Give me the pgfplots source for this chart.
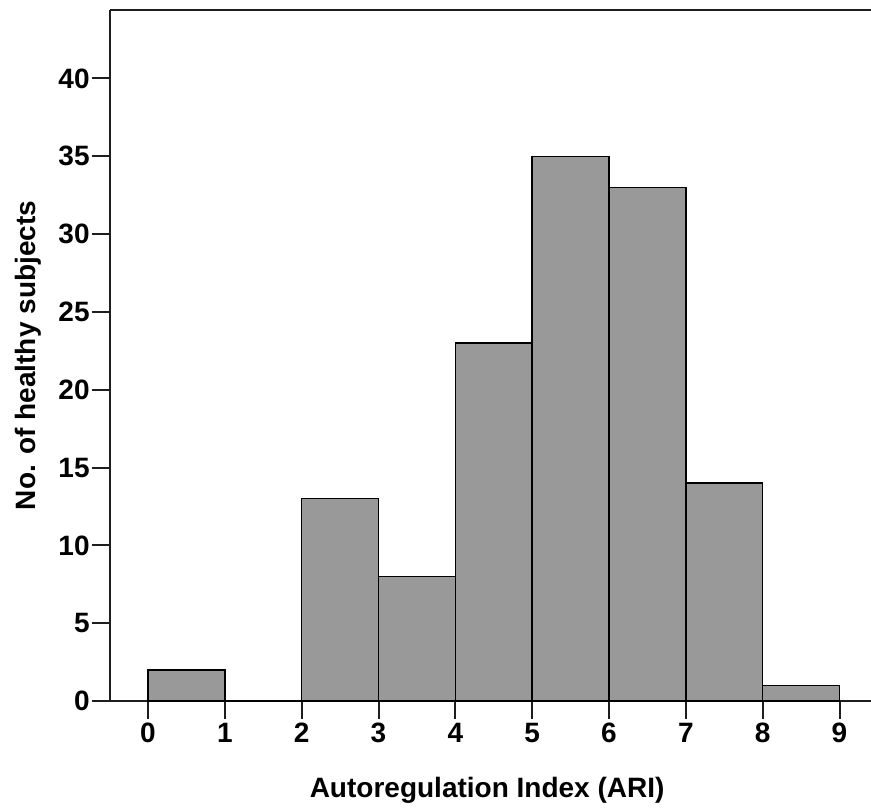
\documentclass[border=0pt]{standalone}
\usepackage{fontspec}
\setmainfont{Liberation Sans}
\usepackage{pgfplots}
\pgfplotsset{compat=1.18}

\definecolor{barfill}{RGB}{153,153,153}
\definecolor{axline}{RGB}{30,30,30}

\begin{document}
\begin{tikzpicture}
  \begin{axis}[
    scale only axis,
    width=380.5pt, height=345.5pt,
    xmin=-0.495, xmax=9.41,
    ymin=0, ymax=44.4,
    axis lines*=left,
    axis line style={-, axline, line width=1pt},
    xtick={0,...,9},
    ytick={0,5,...,40},
    tick align=outside,
    major tick length=9pt,
    tick style={axline, line width=1pt},
    /pgf/number format/assume math mode=true,
    tick label style={font=\fontsize{14}{14}\selectfont\bfseries},
    yticklabel style={inner sep=1pt},
    xticklabel style={inner sep=2pt},
    xlabel={Autoregulation Index (ARI)},
    ylabel={No. of healthy subjects},
    every axis x label/.style={at={(rel axis cs:0.5,0)}, anchor=center,
      xshift=-1.7pt, yshift=-44.5pt, font=\fontsize{14}{14}\selectfont\bfseries},
    every axis y label/.style={at={(rel axis cs:0,0.5)}, anchor=center,
      xshift=-41pt, rotate=90, font=\fontsize{14}{14}\selectfont\bfseries},
    clip=false,
  ]
    % histogram bins of width 1
    \addplot[ybar interval, fill=barfill, draw=black, line width=0.75pt]
      coordinates {(0,2) (1,0) (2,13) (3,8) (4,23) (5,35) (6,33) (7,14) (8,1) (9,1)};
    \draw[axline, line width=1pt] (rel axis cs:0,1) -- (rel axis cs:1,1);
  \end{axis}
  \pgfresetboundingbox
  \path (-55pt,-55.5pt) rectangle (380.5pt,350.5pt);
\end{tikzpicture}
\end{document}
